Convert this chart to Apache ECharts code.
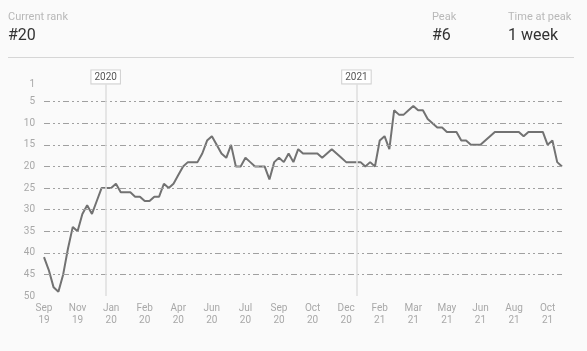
<!DOCTYPE html>
<html><head><meta charset="utf-8">
<script src="https://cdn.jsdelivr.net/npm/echarts@6/dist/echarts.min.js"></script>
<style>html,body{margin:0;padding:0;background:#fafafa}#c{width:587px;height:351px}</style>
</head><body><div id="c"></div>
<script>
// ---- data ----
const startDate = '2019-10-03';
const ranks = [41,44,48,49,45,39,34,35,31,29,31,28,25,25,25,24,26,26,26,27,27,28,28,27,27,24,25,24,22,20,
  19,19,19,17,14,13,15,17,18,15,20,20,18,19,20,20,20,23,19,18,19,17,19,16,17,17,17,17,18,17,
  16,17,18,19,19,19,19,20,19,20,14,13,16,7,8,8,7,6,7,7,9,10,11,11,12,12,12,14,14,15,
  15,15,14,13,12,12,12,12,12,12,13,12,12,12,12,15,14,19,20];
const tickLabels = ['Sep\n19','Nov\n19','Jan\n20','Feb\n20','Apr\n20','Jun\n20','Jul\n20','Sep\n20',
  'Oct\n20','Dec\n20','Feb\n21','Mar\n21','May\n21','Jun\n21','Aug\n21','Oct\n21'];
const tickWeeks = [0,7,14,21,28,35,42,49,56,63,70,77,84,91,98,105];
const rankTicks = [1,5,10,15,20,25,30,35,40,45,50];
const gridRanks = [5,10,15,20,25,30,35,40,45];
const yearMarkers = [{label:'2020', date:'2020-01-01'},{label:'2021', date:'2021-01-01'}];
const statLabels = ['Current rank','Peak','Time at peak'];
const statValues = ['#20','#6','1 week'];

// ---- chart ----
const weekOf = d => (new Date(d) - new Date(startDate)) / (7*86400000);
const chart = echarts.init(document.getElementById('c'));
const font = 'Roboto, "Noto Sans", sans-serif';
const statX = [8, 432, 508];
const titles = [];
statLabels.forEach((l,i)=>{
  titles.push({text:l, left:statX[i], top:12, padding:0, textStyle:{fontSize:11, fontWeight:'normal', color:'#b8b8b8', fontFamily:font}});
  titles.push({text:statValues[i], left:statX[i], top:28, padding:0, textStyle:{fontSize:16, fontWeight:'normal', color:'#333', fontFamily:font}});
});
const gridLineStyle = {color:'#a0a0a0', width:1, type:[6,3,2,3,2,3]};
const markData = gridRanks.map(r=>({yAxis:r, lineStyle:gridLineStyle, label:{show:false}}));
yearMarkers.forEach(m=>{
  const w = weekOf(m.date);
  markData.push([
    {coord:[w, rankTicks[0]], lineStyle:{color:'#dedede', width:1.5, type:'solid'},
     label:{show:true, position:'start', formatter:m.label, distance:1, color:'#555', fontSize:10, fontFamily:font,
       backgroundColor:'#fff', borderColor:'#cfcfcf', borderWidth:1, padding:[2,3,1,3]}},
    {coord:[w, rankTicks[rankTicks.length-1]]}
  ]);
});
chart.setOption({
  backgroundColor:'#fafafa',
  animation:false,
  title: titles,
  graphic:[{type:'line', shape:{x1:8, y1:57.5, x2:574, y2:57.5}, style:{stroke:'#d6d6d6', lineWidth:1}}],
  grid:{left:44, right:25, top:84.4, bottom:55},
  xAxis:{type:'value', min:0, max:ranks.length-1, interval:7,
    axisLine:{show:false}, axisTick:{show:false}, splitLine:{show:false},
    axisLabel:{customValues:tickWeeks, formatter:v=>tickLabels[tickWeeks.indexOf(v)] || '',
      color:'#a8a8a8', fontSize:10, lineHeight:12.5, margin:6, fontFamily:font}},
  yAxis:{type:'value', inverse:true, min:rankTicks[0], max:rankTicks[rankTicks.length-1],
    axisLine:{show:false}, axisTick:{show:false}, splitLine:{show:false},
    axisLabel:{customValues:rankTicks, color:'#a8a8a8', fontSize:10, margin:9, fontFamily:font}},
  series:[
    {type:'line', data:[], z:1, silent:true,
     markLine:{symbol:'none', silent:true, animation:false, data:markData}},
    {type:'line', z:3, data:ranks.map((r,i)=>[i,r]), symbol:'none',
     lineStyle:{color:'#727272', width:2}}
  ]
});
</script></body></html>
